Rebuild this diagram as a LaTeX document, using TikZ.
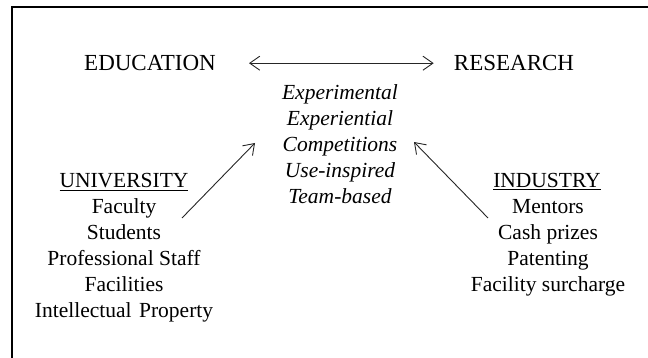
\documentclass[tikz,border=0pt]{standalone}
\usepackage{fontspec}
\setmainfont{Liberation Serif}
\usetikzlibrary{arrows.meta, positioning}
\tikzset{
  head/.style={font=\fontsize{23}{28}\selectfont, anchor=base, inner sep=0pt},
  item/.style={font=\fontsize{21.5}{26}\selectfont, anchor=base, inner sep=0pt},
  mode/.style={font=\fontsize{21.5}{26}\selectfont\itshape, anchor=base, inner sep=0pt},
  link/.style={line width=0.9pt, draw=black!85},
  >={Straight Barb[length=10pt,width=14pt]}
}
\begin{document}
\begin{tikzpicture}[x=1pt,y=-1pt]
  \useasboundingbox (0,0) rectangle (648,358);
  \draw[line width=2pt] (12,358) -- (12,7.5) -- (648,7.5);

  % top row
  \node[head] (edu) at (150,70.7) {EDUCATION};
  \node[head] (res) at (514,70.7) {RESEARCH};
  \draw[link, <->] ([xshift=33pt]edu.east) -- ([xshift=-20pt]res.west);

  % centre column
  \foreach \txt [count=\i from 0] in {Experimental, Experiential, Competitions, Use-inspired, Team-based}
    \node[mode] (m\i) at (340,{100+\i*25.8}) {\txt};

  % university side
  \node[item] (uni) at (124,188) {\underline{UNIVERSITY}};
  \foreach \txt [count=\i] in {Faculty, Students, Professional Staff, Facilities, Intellectual\hspace{0.35em}Property}
    \node[item] (u\i) at (124,{188+\i*25.8}) {\txt};

  % industry side
  \node[item] (ind) at (547,188) {\underline{INDUSTRY}};
  \foreach \txt [count=\i] in {Mentors, Cash prizes, Patenting, Facility surcharge}
    \node[item] (d\i) at (548,{188+\i*25.8}) {\txt};

  \coordinate (ufoot) at (182,218);
  \coordinate (utip) at (255,143);
  \coordinate (dfoot) at (488,218);
  \coordinate (dtip) at (414,142);
  \draw[link, ->] (ufoot) -- (utip);
  \draw[link, ->] (dfoot) -- (dtip);
\end{tikzpicture}
\end{document}
